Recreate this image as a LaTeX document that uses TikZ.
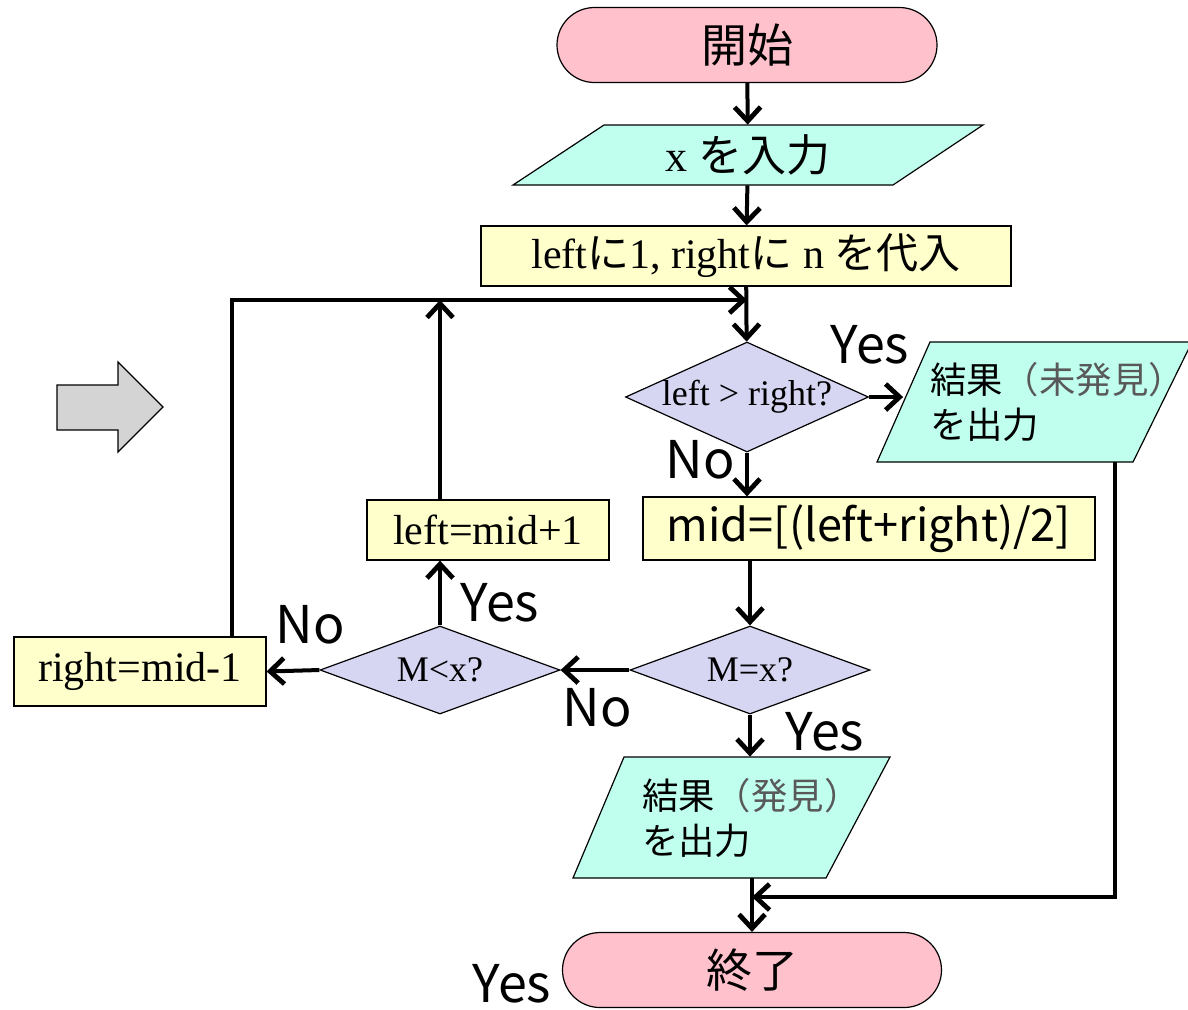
\documentclass[tikz,border=0pt]{standalone}
\usepackage{fontspec}
\setmainfont{Liberation Serif}
\newfontfamily\jpfont{Noto Sans CJK JP}
\usetikzlibrary{arrows.meta,shapes.geometric,shapes.misc}

\definecolor{termpink}{RGB}{255,193,204}
\definecolor{iocyan}{RGB}{192,255,238}
\definecolor{procyellow}{RGB}{255,255,204}
\definecolor{decblue}{RGB}{214,214,243}
\definecolor{notegray}{RGB}{89,89,89}
\definecolor{shapegray}{RGB}{212,212,212}

% text of a decision is set in a zero-width box so the diamond keeps its given size
\newcommand\dectext[1]{\makebox[0pt]{#1}}

\tikzset{
  outline/.style={draw=black, line width=0.6pt},
  terminal/.style={outline, rounded rectangle, fill=termpink, inner sep=0pt,
    minimum height=37.5pt, font=\jpfont\fontsize{23pt}{27pt}\selectfont},
  procbox/.style={outline, rectangle, fill=procyellow, inner sep=0pt,
    font=\fontsize{21pt}{25pt}\selectfont},
  decision/.style={outline, diamond, fill=decblue, inner sep=0pt,
    font=\fontsize{18pt}{22pt}\selectfont},
  iofill/.style={outline, fill=iocyan},
  iotext/.style={rectangle, inner sep=0pt, align=left,
    font=\jpfont\fontsize{18.2pt}{22.5pt}\selectfont},
  flow/.style={line width=2pt, -{Straight Barb[length=7pt,width=13pt,line width=2.4pt]}},
  answer/.style={font=\jpfont\fontsize{26pt}{30pt}\selectfont, inner sep=0pt},
}

\begin{document}
\begin{tikzpicture}[x=0.5pt,y=-0.5pt]
\useasboundingbox (0,0) rectangle (1188,1009);

% block arrow on the left
\filldraw[outline, fill=shapegray] (57,385) -- (118,385) -- (118,362) -- (163,407)
  -- (118,452) -- (118,430) -- (57,430) -- cycle;

% input / output parallelograms
\filldraw[iofill] (604,125) -- (983,125) -- (893,185) -- (513,185) -- cycle;
\filldraw[iofill] (930,342) -- (1192,342) -- (1133,462) -- (877,462) -- cycle;
\filldraw[iofill] (624,757) -- (890,757) -- (826,878) -- (573,878) -- cycle;

% nodes
\node[terminal, minimum width=190pt] (start) at (747,45) {開始};
\node[iotext, minimum width=190pt, minimum height=30pt,
  font=\fontsize{22pt}{26pt}\selectfont] (input) at (748,155) {x {\jpfont を入力}};
\node[procbox, minimum width=265pt, minimum height=30pt] (init) at (746,256)
  {left{\jpfont に}1, right{\jpfont に} n {\jpfont を代入}};
\node[decision, minimum width=121.5pt, minimum height=55pt] (cmp) at (747,397)
  {\dectext{left > right?}};
\node[iotext, minimum width=129pt, minimum height=60pt, text width=102.5pt] (notfound) at (1032.5,402)
  {\mbox{結果{\color{notegray}（未発見）}}\\を出力};
\node[procbox, minimum width=226pt, minimum height=31.5pt,
  font=\jpfont\fontsize{22.5pt}{26pt}\selectfont] (mid) at (869,528.5) {mid=[(left+right)/2]};
\node[decision, minimum width=120pt, minimum height=44pt] (eq) at (750,670) {\dectext{M=x?}};
\node[decision, minimum width=120pt, minimum height=44pt] (lt) at (440,670) {\dectext{M<x?}};
\node[procbox, minimum width=121pt, minimum height=30pt] (incleft) at (488,530) {left=mid+1};
\node[procbox, minimum width=126pt, minimum height=34.5pt] (decright) at (140,671.5) {right=mid-1};
\node[iotext, minimum width=129.75pt, minimum height=60.5pt, text width=86pt] (found) at (728,817.5)
  {\mbox{結果{\color{notegray}（発見）}}\\を出力};
\node[terminal, minimum width=189.5pt] (stop) at (752,970) {終了};

% branch labels
\node[answer] (y1) at (870,345) {Yes};
\node[answer] (n1) at (700,460) {No};
\node[answer] (y2) at (500,603) {Yes};
\node[answer] (n2) at (310,625) {No};
\node[answer] (n3) at (597,708) {No};
\node[answer] (y3) at (825,732) {Yes};
\node[answer] (y4) at (512,984) {Yes};

% junction points of the loops
\coordinate (merge) at (747,300);
\coordinate (loopcorner) at (232,300);
\coordinate (exitcorner) at (1115,897);

% connectors
\draw[flow] (start) -- (input);
\draw[flow] (input) -- (init);
\draw[flow] (init) -- (cmp);
\draw[flow] (cmp.east) -- (cmp.east -| notfound.west);
\draw[flow] (cmp.south) -- (cmp.south |- mid.north);
\draw[flow] (eq.north |- mid.south) -- (eq.north);
\draw[flow] (eq.west) -- (lt.east);
\draw[flow] (lt.north) -- (lt.north |- incleft.south);
\draw[flow] (lt.north |- incleft.north) -- (lt.north |- merge);
\draw[flow] (lt.west) -- (decright.east);
\draw[flow] (loopcorner |- decright.north) -- (loopcorner) -- (merge);
\draw[flow] (eq.south) -- (eq.south |- found.north);
\draw[flow] (stop.north |- found.south) -- (stop.north);
\draw[flow] (exitcorner |- notfound.south) -- (exitcorner) -- (exitcorner -| stop.north);
\end{tikzpicture}
\end{document}
